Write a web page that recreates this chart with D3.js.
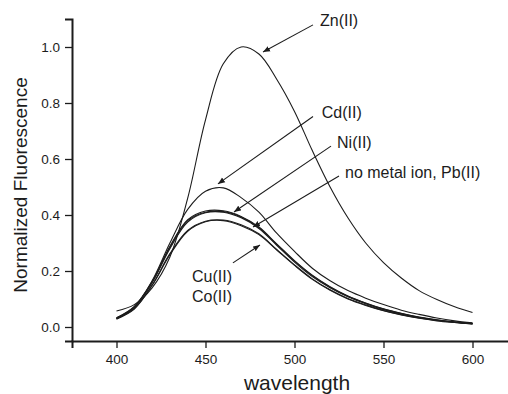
<!DOCTYPE html>
<html>
<head>
<meta charset="utf-8">
<script src="https://cdn.jsdelivr.net/npm/d3@7"></script>
<style>
  html, body { margin: 0; padding: 0; background: #fff; }
  svg { display: block; font-family: "Liberation Sans", Arial, sans-serif; }
</style>
</head>
<body>
<svg width="508" height="394"></svg>
<script>
// data
const wavelength = [400, 410, 420, 430, 440, 450, 460, 470, 480, 490, 500, 510, 520, 530, 540, 550, 560, 570, 580, 590, 600];
const zn      = [0.057, 0.08, 0.14, 0.25, 0.46, 0.74, 0.94, 1.0, 0.975, 0.885, 0.77, 0.63, 0.50, 0.39, 0.30, 0.23, 0.175, 0.13, 0.098, 0.072, 0.052];
const cd      = [0.03, 0.07, 0.165, 0.30, 0.42, 0.485, 0.497, 0.462, 0.41, 0.335, 0.27, 0.21, 0.165, 0.13, 0.103, 0.08, 0.06, 0.045, 0.032, 0.022, 0.015];
const noMetal = [0.032, 0.072, 0.16, 0.285, 0.38, 0.41, 0.412, 0.393, 0.355, 0.295, 0.235, 0.183, 0.142, 0.11, 0.085, 0.064, 0.048, 0.035, 0.025, 0.018, 0.012];
const pb      = [0.03, 0.07, 0.158, 0.28, 0.375, 0.408, 0.41, 0.39, 0.352, 0.292, 0.232, 0.18, 0.14, 0.108, 0.083, 0.062, 0.046, 0.034, 0.024, 0.017, 0.012];
const ni      = [0.033, 0.074, 0.162, 0.288, 0.383, 0.414, 0.415, 0.395, 0.357, 0.297, 0.237, 0.185, 0.144, 0.111, 0.086, 0.065, 0.049, 0.036, 0.026, 0.018, 0.013];
const cu      = [0.03, 0.066, 0.15, 0.262, 0.345, 0.378, 0.382, 0.365, 0.333, 0.277, 0.222, 0.172, 0.133, 0.102, 0.079, 0.059, 0.044, 0.032, 0.023, 0.016, 0.011];
const co      = [0.028, 0.064, 0.148, 0.258, 0.342, 0.376, 0.38, 0.362, 0.33, 0.275, 0.22, 0.17, 0.131, 0.1, 0.077, 0.058, 0.043, 0.031, 0.022, 0.016, 0.011];

const xTicks = [400, 450, 500, 550, 600];
const yTicks = [0.0, 0.2, 0.4, 0.6, 0.8, 1.0];

// annotation labels: text centre and arrow (from -> to), all in data units
const labels = [
    { text: "Zn(II)", x: 514.3, y: 1.096, from: [510.4, 1.079], to: [482.3, 0.982] },
    { text: "Cd(II)", x: 515.3, y: 0.768, from: [510.4, 0.752], to: [457.0, 0.511] },
    { text: "Ni(II)", x: 523.9, y: 0.661, from: [520.5, 0.646], to: [466.0, 0.411] },
    { text: "no metal ion, Pb(II)", x: 528.4, y: 0.554, from: [525.0, 0.539], to: [476.7, 0.357] },
    { text: "Cu(II)", x: 442.4, y: 0.182, from: [465.4, 0.229], to: [480.6, 0.293] },
    { text: "Co(II)", x: 442.4, y: 0.111, from: null, to: null }
];

const series = [zn, cd, noMetal, pb, ni, cu, co];

let svg = d3.select("svg");
let margin = { left: 72, top: 19, bottom: 53 };
let height = +svg.attr("height");

let x = d3.scaleLinear().domain([375, 625]).range([margin.left, margin.left + 445]);
let y = d3.scaleLinear().domain([-0.05, 1.1]).range([height - margin.bottom, margin.top]);

let ink = "#1c1c1c";

// arrow marker
svg.append("defs").append("marker")
    .attr("id", "arrowhead")
    .attr("viewBox", "0 -5 10 10")
    .attr("refX", 10)
    .attr("refY", 0)
    .attr("markerWidth", 7)
    .attr("markerHeight", 7)
    .attr("markerUnits", "userSpaceOnUse")
    .attr("orient", "auto")
    .append("path")
    .attr("d", "M0,-4L10,0L0,4Z")
    .attr("fill", ink);

// curves
let line = d3.line()
    .x(function (d, i) { return x(wavelength[i]); })
    .y(function (d) { return y(d); })
    .curve(d3.curveCatmullRom.alpha(0.5));

svg.append("g")
    .selectAll("path")
    .data(series)
    .enter().append("path")
    .attr("d", line)
    .attr("fill", "none")
    .attr("stroke", ink)
    .attr("stroke-width", 1.1);

// x axis: major + minor ticks, outward
let xAxis = svg.append("g")
    .attr("transform", "translate(0," + y.range()[0] + ")");
xAxis.call(d3.axisBottom(x).tickValues(d3.range(375, 626, 25)).tickSize(4).tickFormat(""));
xAxis.call(d3.axisBottom(x).tickValues(xTicks).tickSize(7).tickPadding(6).tickFormat(d3.format("d")));

// y axis
let yAxis = svg.append("g")
    .attr("transform", "translate(" + margin.left + ",0)");
yAxis.call(d3.axisLeft(y).tickValues(d3.range(0, 1.101, 0.1)).tickSize(4).tickFormat(""));
yAxis.call(d3.axisLeft(y).tickValues(yTicks).tickSize(7).tickPadding(5).tickFormat(d3.format(".1f")));

svg.selectAll(".domain").attr("stroke", ink).attr("stroke-width", 2);
svg.selectAll(".tick line").attr("stroke", ink).attr("stroke-width", 1.3);
svg.selectAll(".tick text")
    .attr("fill", ink)
    .style("font-size", "13.5px")
    .style("font-family", "'Liberation Sans', Arial, sans-serif");

// axis titles
svg.append("text")
    .attr("x", 297)
    .attr("y", 390)
    .attr("text-anchor", "middle")
    .attr("fill", ink)
    .style("font-size", "21px")
    .text("wavelength");

svg.append("text")
    .attr("transform", "translate(27,185) rotate(-90)")
    .attr("text-anchor", "middle")
    .attr("fill", ink)
    .style("font-size", "19px")
    .text("Normalized Fluorescence");

// annotations
let notes = svg.append("g");
notes.selectAll("line")
    .data(labels.filter(function (d) { return d.from; }))
    .enter().append("line")
    .attr("x1", function (d) { return x(d.from[0]); })
    .attr("y1", function (d) { return y(d.from[1]); })
    .attr("x2", function (d) { return x(d.to[0]); })
    .attr("y2", function (d) { return y(d.to[1]); })
    .attr("stroke", ink)
    .attr("stroke-width", 1.1)
    .attr("marker-end", "url(#arrowhead)");

notes.selectAll("text")
    .data(labels)
    .enter().append("text")
    .attr("x", function (d) { return x(d.x); })
    .attr("y", function (d) { return y(d.y); })
    .attr("dy", "0.36em")
    .attr("fill", ink)
    .style("font-size", "16px")
    .text(function (d) { return d.text; });
</script>
</body>
</html>
